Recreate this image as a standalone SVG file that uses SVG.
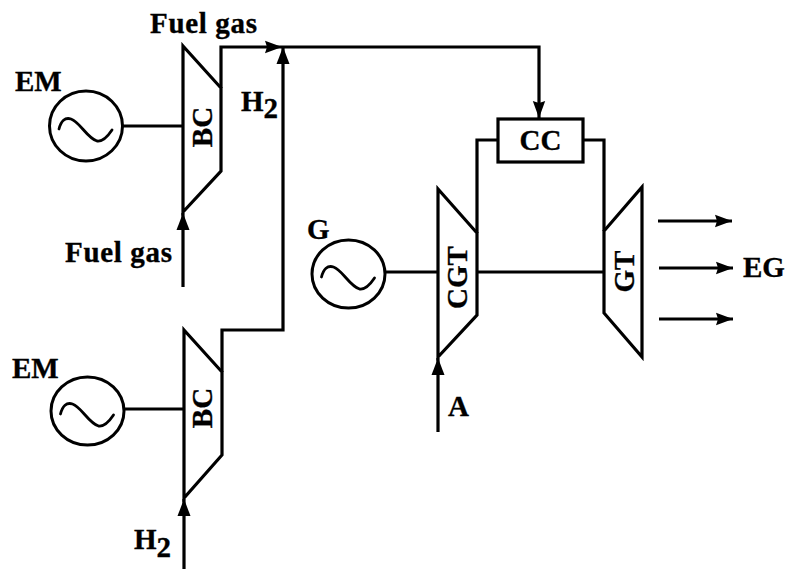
<svg xmlns="http://www.w3.org/2000/svg" width="789" height="569" viewBox="0 0 789 569">
<style>
.l{fill:none;stroke:#000;stroke-width:3.2;stroke-linejoin:miter;stroke-linecap:butt}
.c{fill:#fff;stroke:#000;stroke-width:3}
.w{fill:none;stroke:#000;stroke-width:2.8;stroke-linecap:round}
text{font-family:"Liberation Serif","Times New Roman",serif;font-weight:700;font-size:29px;fill:#000;stroke:#000;stroke-width:.35}
.s{font-size:29px}
.m{text-anchor:middle}
</style>
<defs>
<marker id="a" markerUnits="userSpaceOnUse" markerWidth="18" markerHeight="14" refX="17" refY="7" orient="auto"><path d="M0 .8 L17 7 L0 13.2 L2 7 Z" fill="#000"/></marker>
<marker id="b" markerUnits="userSpaceOnUse" markerWidth="18" markerHeight="14" refX="17" refY="7" orient="auto"><path d="M0 .5 L17 7 L0 13.5 Z" fill="#000"/></marker>
<path id="sine" d="M-27 3 C-25 -5 -21 -9 -15 -7 C-6 -4 1 12 11 15 C17 16 22 10 26 4"/>
</defs>
<g id="connectors" class="l">
<path class="l" d="M123 126H183"/>
<path class="l" d="M124 409H184"/>
<path class="l" d="M385 272H438"/>
<path class="l" d="M477 272H604"/>
<path class="l" d="M183 287V213" marker-end="url(#b)"/>
<path class="l" d="M184 569V499" marker-end="url(#b)"/>
<path class="l" d="M438 432V358" marker-end="url(#b)"/>
<path class="l" d="M221 88V47H282" marker-end="url(#a)"/>
<path class="l" d="M222 372V330H283V47" marker-end="url(#b)"/>
<path class="l" d="M282 47H539V118" marker-end="url(#a)"/>
<path class="l" d="M498 140H477V233"/>
<path class="l" d="M583 140H604V231"/>
<path class="l" d="M658 221H732" marker-end="url(#a)"/>
<path class="l" d="M659 268H733" marker-end="url(#a)"/>
<path class="l" d="M659 319H733" marker-end="url(#a)"/>
</g>
<g id="em1"><ellipse class="c" cx="86" cy="126" rx="36.5" ry="35"/><use href="#sine" class="w" x="86" y="126"/><text x="15" y="91">EM</text></g>
<g id="em2"><ellipse class="c" cx="87.5" cy="411" rx="36.5" ry="34"/><use href="#sine" class="w" x="87.5" y="411"/><text x="12" y="378">EM</text></g>
<g id="g"><ellipse class="c" cx="348.5" cy="274" rx="36.5" ry="34"/><use href="#sine" class="w" x="348.5" y="274"/><text x="307" y="239">G</text></g>
<g id="bc1"><path class="l" d="M183 46L221 88V171L183 212Z"/><text class="m" transform="translate(212 127) rotate(-90)">BC</text></g>
<g id="bc2"><path class="l" d="M184 330L222 372V455L184 498Z"/><text class="m" transform="translate(212 408) rotate(-90)">BC</text></g>
<g id="cgt"><path class="l" d="M438 189L477 233V315L438 357Z"/><text class="m" transform="translate(467 277.5) rotate(-90)">CGT</text></g>
<g id="gt"><path class="l" d="M642 187L604 231V313L642 357Z"/><text class="m" transform="translate(634 271.5) rotate(-90)">GT</text></g>
<g id="cc"><rect class="l" x="498" y="119" width="85" height="43"/><text class="m" x="540.5" y="150">CC</text></g>
<g id="labels">
<text x="150" y="33" textLength="107">Fuel gas</text>
<text x="65" y="262" textLength="107">Fuel gas</text>
<text x="241" y="111">H<tspan class="s" dy="7">2</tspan></text>
<text x="134" y="549">H<tspan class="s" dy="8">2</tspan></text>
<text x="448" y="416">A</text>
<text x="743" y="277">EG</text>
</g>
</svg>
